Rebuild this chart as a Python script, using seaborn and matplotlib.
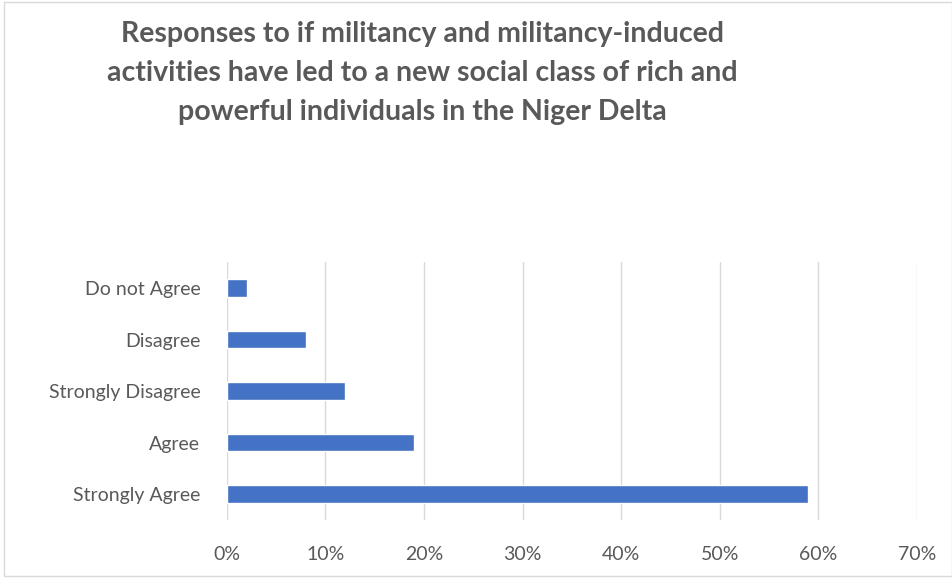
import numpy as np
import pandas as pd
import seaborn as sns
import matplotlib.pyplot as plt
from matplotlib.ticker import PercentFormatter

categories = ["Do not Agree", "Disagree", "Strongly Disagree", "Agree", "Strongly Agree"]
shares = [2, 8, 12, 19, 59]

title = ("Responses to if militancy and militancy-induced\n"
         "activities have led to a new social class of rich and\n"
         "powerful individuals in the Niger Delta")

sns.set_theme(style="white")
plt.rcParams['font.family'] = ['Lato', 'DejaVu Sans']

df = pd.DataFrame({"Response": categories, "Share": shares})

fig = plt.figure(figsize=(9.53, 5.79), dpi=100)
ax = fig.add_axes([0.238, 0.102, 0.724, 0.445])

sns.barplot(data=df, x="Share", y="Response", color="#4472C4", width=0.34,
            saturation=1, ax=ax, zorder=3)

ax.set_xlim(0, 70)
ax.set_xticks(np.arange(0, 71, 10))
ax.xaxis.set_major_formatter(PercentFormatter(decimals=0))
ax.grid(axis="x", color="#D9D9D9", linewidth=1, zorder=0)
ax.set_xlabel("")
ax.set_ylabel("")
for s in ax.spines.values():
    s.set_visible(False)
ax.tick_params(axis="both", length=0, labelsize=14, colors="#595959")
ax.tick_params(axis="x", pad=19)
ax.tick_params(axis="y", pad=19)

fig.text(0.443, 0.963, title, ha="center", va="top", fontsize=20.5,
         fontweight="bold", color="#595959", linespacing=1.62)

fig.patches.append(plt.Rectangle((0.004, 0.006), 0.995, 0.99, transform=fig.transFigure,
                                 fill=False, edgecolor="#D9D9D9", linewidth=1))

fig.savefig("out.png", dpi=100)
